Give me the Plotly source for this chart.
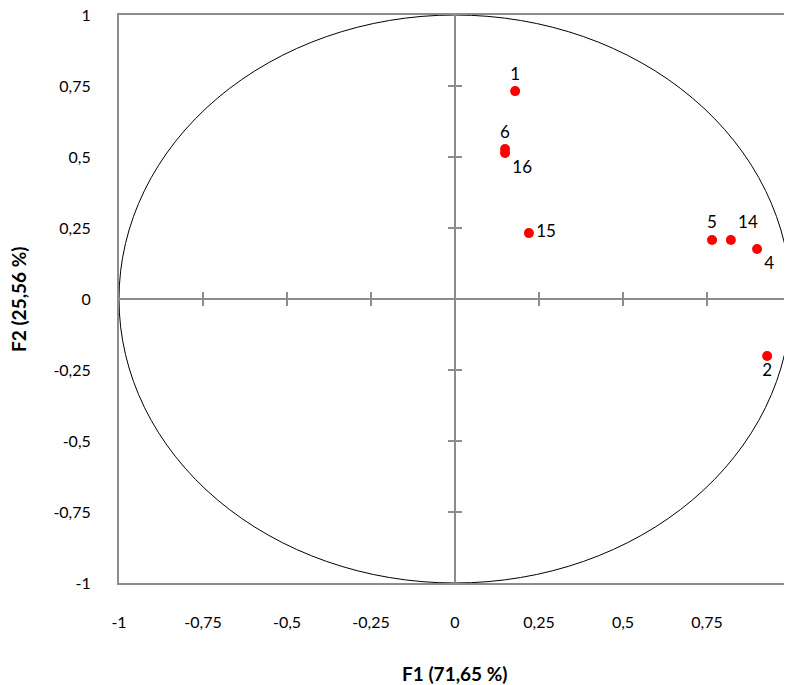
import plotly.graph_objects as go

labels = ["1", "6", "16", "15", "5", "14", "4", "2"]
f1 = [0.179, 0.149, 0.149, 0.220, 0.765, 0.821, 0.899, 0.929]
f2 = [0.732, 0.528, 0.514, 0.232, 0.208, 0.208, 0.176, -0.201]
positions = ["top center", "top center", "bottom right", "middle right",
             "top center", "top right", "bottom right", "bottom center"]

tick_vals = [-1, -0.75, -0.5, -0.25, 0, 0.25, 0.5, 0.75, 1]
tick_text = ["-1", "-0,75", "-0,5", "-0,25", "0", "0,25", "0,5", "0,75", "1"]

FONT = "Lato"
GRAY = "#8c8c8c"

fig = go.Figure()
fig.add_trace(go.Scatter(
    x=f1, y=f2, mode="markers+text", text=labels, textposition=positions,
    marker=dict(color="#ff0000", size=10),
    textfont=dict(family=FONT, size=17, color="black"),
    showlegend=False, cliponaxis=False,
))

shapes = [
    dict(type="circle", xref="x", yref="y", x0=-1, y0=-1, x1=1, y1=1,
         line=dict(color="black", width=1), layer="below"),
    dict(type="line", xref="x", yref="y", x0=-1, x1=1, y0=0, y1=0,
         line=dict(color=GRAY, width=2), layer="below"),
    dict(type="line", xref="x", yref="y", x0=0, x1=0, y0=-1, y1=1,
         line=dict(color=GRAY, width=2), layer="below"),
]
dy = 7 / 284
dx = 7 / 336
for v in tick_vals:
    if v in (-1, 0, 1):
        continue
    shapes.append(dict(type="line", xref="x", yref="y", x0=v, x1=v, y0=-dy, y1=dy,
                       line=dict(color=GRAY, width=2), layer="below"))
    shapes.append(dict(type="line", xref="x", yref="y", x0=-dx, x1=dx, y0=v, y1=v,
                       line=dict(color=GRAY, width=2), layer="below"))

annotations = [
    dict(text="<b>F1 (71,65 %)</b>", xref="paper", yref="paper", x=0.5, y=0,
         xanchor="center", yanchor="middle", yshift=-90, showarrow=False,
         font=dict(family=FONT, size=19, color="black")),
    dict(text="<b>F2 (25,56 %)</b>", xref="paper", yref="paper", x=0, y=0.5,
         xanchor="center", yanchor="middle", xshift=-101, textangle=-90,
         showarrow=False, font=dict(family=FONT, size=19, color="black")),
]

fig.update_layout(
    width=792, height=685,
    margin=dict(l=111, r=9, t=7, b=110, autoexpand=False),
    plot_bgcolor="white", paper_bgcolor="white",
    font=dict(family=FONT, size=16, color="black"),
    shapes=shapes, annotations=annotations,
    xaxis=dict(range=[-1, 1], tickvals=tick_vals, ticktext=tick_text,
               showgrid=False, zeroline=False, showline=True, linecolor=GRAY,
               linewidth=2, mirror=True, ticks="outside", ticklen=24,
               tickcolor="rgba(0,0,0,0)", automargin=False,
               ticklabeloverflow="allow"),
    yaxis=dict(range=[-1, 1], tickvals=tick_vals, ticktext=tick_text,
               showgrid=False, zeroline=False, showline=True, linecolor=GRAY,
               linewidth=2, mirror=True, ticks="outside", ticklen=23,
               tickcolor="rgba(0,0,0,0)", automargin=False,
               ticklabeloverflow="allow"),
)

fig.write_html("out.html")
